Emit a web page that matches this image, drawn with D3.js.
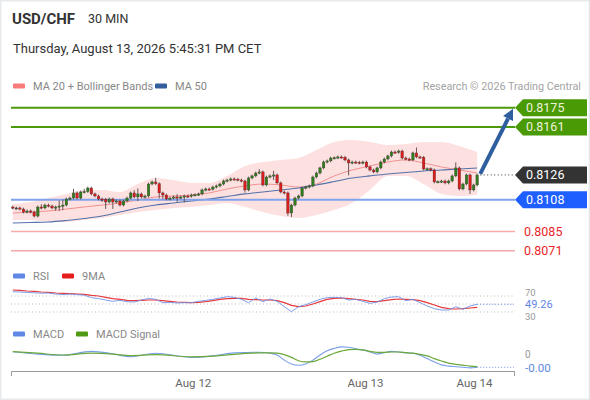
<!DOCTYPE html>
<html>
<head>
<meta charset="utf-8">
<title>USD/CHF 30 MIN</title>
<script src="https://cdn.jsdelivr.net/npm/d3@7/dist/d3.min.js"></script>
<style>
  body { margin: 0; background: #fff; }
  svg text { font-family: Roboto, "Liberation Sans", Arial, sans-serif; }
</style>
</head>
<body>
<svg id="chart" width="590" height="400"></svg>
<script>
// ---- data ----
const pair = "USD/CHF";
const period = "30 MIN";
const stamp = "Thursday, August 13, 2026 5:45:31 PM CET";

// 30 min candles, open = previous close
const firstOpen = 0.81028;
const closes = [
  0.81021, 0.81021, 0.81013, 0.80991, 0.80999, 0.80991, 0.80962, 0.81028, 0.81021, 0.81042,
  0.81035, 0.81021, 0.81028, 0.81035, 0.81042, 0.81086, 0.81093, 0.81130, 0.81093, 0.81137,
  0.81140, 0.81166, 0.81123, 0.81108, 0.81086, 0.81084, 0.81064, 0.81086, 0.81064, 0.81072,
  0.81042, 0.81072, 0.81093, 0.81130, 0.81101, 0.81123, 0.81101, 0.81108, 0.81195, 0.81210,
  0.81197, 0.81130, 0.81115, 0.81086, 0.81093, 0.81101, 0.81095, 0.81101, 0.81108, 0.81106,
  0.81115, 0.81117, 0.81123, 0.81152, 0.81159, 0.81157, 0.81173, 0.81181, 0.81195, 0.81217,
  0.81224, 0.81232, 0.81230, 0.81224, 0.81217, 0.81152, 0.81239, 0.81254, 0.81275, 0.81283,
  0.81188, 0.81246, 0.81254, 0.81261, 0.81203, 0.81137, 0.81130, 0.80984, 0.81042, 0.81093,
  0.81108, 0.81166, 0.81173, 0.81181, 0.81246, 0.81275, 0.81312, 0.81355, 0.81363, 0.81384,
  0.81386, 0.81392, 0.81390, 0.81370, 0.81348, 0.81355, 0.81353, 0.81348, 0.81355, 0.81319,
  0.81297, 0.81283, 0.81312, 0.81355, 0.81377, 0.81399, 0.81428, 0.81425, 0.81435, 0.81384,
  0.81377, 0.81370, 0.81421, 0.81392, 0.81390, 0.81304, 0.81306, 0.81297, 0.81210, 0.81212,
  0.81217, 0.81203, 0.81217, 0.81254, 0.81312, 0.81159, 0.81195, 0.81261, 0.81152, 0.81188,
  0.81261
];
// wick lengths beyond the body, in pips
const wickUp = [
  1,1,1,1,1,1,1,1,2,1, 1,1,1,4,4,1,1,3,1,1, 2,1,1,1,1,1,1,1,1,1, 1,1,1,1,2,4,1,1,1,1,
  3,1,1,1,1,1,2,1,1,1, 1,1,1,1,1,1,1,1,1,1, 1,1,1,1,1,1,1,1,1,2, 1,1,1,3,1,1,1,1,1,1,
  1,1,1,1,1,1,1,1,1,1, 1,1,1,1,1,1,1,1,1,1, 1,1,1,1,1,1,1,1,1,1, 1,1,1,4,1,1,1,1,1,1,
  1,1,1,1,4,1,1,1,1,1, 1
];
const wickDn = [
  1,1,1,1,1,1,1,1,1,1, 1,1,2,3,3,1,1,1,1,1, 1,1,1,1,1,2,5,1,5,1, 1,1,1,1,1,3,1,1,1,1,
  1,4,3,1,1,1,3,1,4,1, 1,1,1,1,1,1,1,1,1,1, 1,1,1,1,1,2,1,1,1,1, 1,1,1,3,1,1,1,2,3,1,
  1,1,1,1,1,1,1,1,1,1, 1,1,1,1,9,1,1,1,1,1, 1,1,1,1,1,1,1,1,1,1, 1,1,1,1,1,1,1,1,1,1,
  1,1,1,1,1,1,1,1,3,1, 1
];

// MA 20 + Bollinger Bands and MA 50, every 5th candle
const bandIdx = [0,5,10,15,20,25,30,35,40,45,50,55,60,65,70,75,80,85,90,95,100,105,110,115,120,125,130];
const bandUpper = [0.81050, 0.81064, 0.81093, 0.81123, 0.81152, 0.81152, 0.81137, 0.81195, 0.81239, 0.81224,
  0.81203, 0.81203, 0.81254, 0.81326, 0.81355, 0.81370, 0.81384, 0.81442, 0.81501, 0.81515,
  0.81501, 0.81479, 0.81486, 0.81501, 0.81501, 0.81472, 0.81428];
const ma20 = [0.80984, 0.80991, 0.80999, 0.81013, 0.81028, 0.81042, 0.81057, 0.81079, 0.81101, 0.81108,
  0.81115, 0.81130, 0.81159, 0.81181, 0.81195, 0.81188, 0.81173, 0.81195, 0.81254, 0.81297,
  0.81326, 0.81355, 0.81370, 0.81348, 0.81319, 0.81297, 0.81275];
const bandLower = [0.80933, 0.80933, 0.80919, 0.80919, 0.80933, 0.80948, 0.80970, 0.80991, 0.81006, 0.81021,
  0.81028, 0.81042, 0.81057, 0.81028, 0.80991, 0.80962, 0.80948, 0.80970, 0.81006, 0.81057,
  0.81152, 0.81254, 0.81254, 0.81195, 0.81123, 0.81108, 0.81115];
const ma50 = [0.80912, 0.80915, 0.80919, 0.80930, 0.80944, 0.80962, 0.80991, 0.81021, 0.81042, 0.81057,
  0.81072, 0.81086, 0.81104, 0.81123, 0.81137, 0.81152, 0.81166, 0.81188, 0.81213, 0.81239,
  0.81254, 0.81268, 0.81279, 0.81290, 0.81297, 0.81304, 0.81312];

// key levels
const levelValues = [0.8175, 0.8161, 0.8126, 0.8108, 0.8085, 0.8071];
const levelKinds = ["target", "target", "last", "pivot", "support", "support"];
const targetLevel = 0.8175;

// RSI and its 9MA, every 2nd candle
const rsiStep = 2;
const rsi = [
  80.8, 80, 79, 78, 77, 77.5, 75, 73.5, 75, 73.5,
  72, 66, 63.5, 60, 56.7, 59, 55.8, 55, 60, 64,
  61.7, 53.3, 54, 52.5, 53.3, 53.3, 56.7, 59, 61.7, 65,
  68.3, 66.7, 61.7, 53.3, 65, 55.8, 62.5, 56.7, 43.3, 30.8,
  43.3, 48.3, 55, 61.7, 65.8, 66.7, 65.8, 60, 61.7, 56.7,
  51.7, 55, 63.3, 67.5, 68.3, 58.3, 61.7, 53.3, 45, 38.3,
  35, 35, 43.3, 36.7, 45, 49.26
];
const rsiMa = [
  85, 84, 82.5, 81.7, 80, 79, 77.5, 76.7, 75.8, 75,
  74.2, 71.7, 70, 66.7, 63.3, 61.7, 59, 58.3, 59, 60,
  60, 58.3, 56.7, 55, 54, 53.3, 54, 55.8, 58.3, 61.7,
  63.3, 64, 64, 61.7, 60.8, 60, 60, 58.3, 53.3, 46.7,
  43.3, 45, 50, 55.8, 61.7, 64.2, 65, 63.3, 61.7, 60,
  56.7, 55.8, 58.3, 60.8, 62.5, 61.7, 60.8, 58.3, 53.3, 47.5,
  41.7, 38.3, 37.5, 38.3, 40, 41.7
];
const rsiLevels = [70, 50, 30];

// MACD and signal, in pips
const macdIdx = [0,7,14,22,28,33,40,50,56,62,69,72,74,76,78,80,82,84,86,88,90,92,94,96,98,100,
  102,104,106,108,110,112,114,116,118,120,122,124,126,128,130];
const macdPips = [2.1,1.3,0.9,2.2,1.4,0.4,1.6,0.2,0.7,1.7,1.9,1.6,1.0,
  -0.7,-2.0,-2.4,-2.0,-0.7,1.0,2.4,3.2,3.7,3.6,3.1,2.7,2.0,1.3,1.8,2.2,2.0,1.7,1.6,0.9,
  -0.2,-1.3,-2.3,-2.7,-2.9,-3.1,-3.3,-3.1];
const signalPips = [2.1,1.6,1.0,1.6,1.3,0.8,1.1,0.4,0.6,1.2,1.7,1.7,1.6,
  1.1,0.2,-0.9,-1.3,-1.2,-0.4,0.6,1.6,2.3,2.8,2.9,2.7,2.2,1.9,1.9,2.0,2.0,1.8,1.6,1.2,
  0.7,-0.2,-1.0,-1.7,-2.1,-2.4,-2.7,-2.9];

const tickIdx = [50.4, 98.6, 129.1];
const tickLabels = ["Aug 12", "Aug 13", "Aug 14"];

// ---- drawing ----
const svg = d3.select("#chart");
const pip = 0.0001;

const x = d3.scaleLinear().domain([-0.5, 140.3]).range([11, 514]);
const y = d3.scaleLinear().domain([0.8071, 0.8175]).range([250.7, 107.7]);
const yRsi = d3.scaleLinear().domain([30, 70]).range([312, 296]);
const yMacd = d3.scaleLinear().domain([-3, 3]).range([367, 349]);

const candles = closes.map((c, i) => {
  const o = i ? closes[i - 1] : firstOpen;
  return { i, o, c,
    h: Math.max(o, c) + wickUp[i] * pip,
    l: Math.min(o, c) - wickDn[i] * pip };
});
const last = candles[candles.length - 1];

svg.append("rect").attr("x", 0.75).attr("y", 0.75).attr("width", 588.5).attr("height", 398.5)
  .attr("fill", "#fff").attr("stroke", "#e6eaed").attr("stroke-width", 1.5);

// header
svg.append("text").attr("x", 12).attr("y", 24).attr("font-size", 15).attr("font-weight", "bold")
  .attr("fill", "#333").text(pair);
svg.append("text").attr("x", 88).attr("y", 23).attr("font-size", 12.5).attr("fill", "#333").text(period);
svg.append("text").attr("x", 13).attr("y", 53).attr("font-size", 13).attr("fill", "#333").text(stamp);

function legend(items, ly) {
  items.forEach(it => {
    svg.append("rect").attr("x", it.x).attr("y", ly - 2.5).attr("width", 12).attr("height", 5)
      .attr("rx", 1).attr("fill", it.color);
    svg.append("text").attr("x", it.x + 20).attr("y", ly + 4).attr("font-size", 11)
      .attr("fill", "#888").text(it.label);
  });
}
legend([{ x: 13, color: "#f77b7b", label: "MA 20 + Bollinger Bands" },
        { x: 155, color: "#345d9d", label: "MA 50" }], 86);
svg.append("text").attr("x", 581).attr("y", 90).attr("text-anchor", "end").attr("font-size", 10.8)
  .attr("fill", "#a3a3a3").text("Research \u00a9 2026 Trading Central");

// bollinger band
const bandPts = bandIdx.map((k, j) => ({ k, u: bandUpper[j], m: ma20[j], l: bandLower[j], s: ma50[j] }));
svg.append("path").datum(bandPts)
  .attr("d", d3.area().x(d => x(d.k)).y0(d => y(d.l)).y1(d => y(d.u)).curve(d3.curveMonotoneX))
  .attr("fill", "#fde1e1");
svg.append("path").datum(bandPts)
  .attr("d", d3.line().x(d => x(d.k)).y(d => y(d.m)).curve(d3.curveMonotoneX))
  .attr("fill", "none").attr("stroke", "#f39090").attr("stroke-width", 1);
svg.append("path").datum(bandPts)
  .attr("d", d3.line().x(d => x(d.k)).y(d => y(d.s)).curve(d3.curveMonotoneX))
  .attr("fill", "none").attr("stroke", "#5372aa").attr("stroke-width", 1.1);

// level lines
const lineStyle = {
  target: { stroke: "#4c9a0c", width: 2 },
  pivot: { stroke: "#7fa3ec", width: 2 },
  support: { stroke: "#f6aaaa", width: 1.5 }
};
levelValues.forEach((v, j) => {
  const st = lineStyle[levelKinds[j]];
  if (!st) return;
  svg.append("line").attr("x1", 11).attr("x2", 515).attr("y1", y(v)).attr("y2", y(v))
    .attr("stroke", st.stroke).attr("stroke-width", st.width);
});

// candles
const cw = 2.6;
const cg = svg.append("g");
cg.selectAll("line.wick").data(candles).join("line")
  .attr("x1", d => x(d.i)).attr("x2", d => x(d.i))
  .attr("y1", d => y(d.h)).attr("y2", d => y(d.l))
  .attr("stroke", "#5a4a4a").attr("stroke-width", 0.9);
cg.selectAll("rect.body").data(candles).join("rect")
  .attr("x", d => x(d.i) - cw / 2).attr("width", cw)
  .attr("y", d => y(Math.max(d.o, d.c)))
  .attr("height", d => Math.max(1.2, Math.abs(y(d.o) - y(d.c))))
  .attr("fill", d => d.c > d.o ? "#2f7d1d" : (d.c < d.o ? "#d91c1c" : "#444"))
  .attr("stroke", "#3a3030").attr("stroke-width", 0.3);

// dotted line from last close to its label
svg.append("line").attr("x1", x(last.i) + 3).attr("x2", 515)
  .attr("y1", y(last.c)).attr("y2", y(last.c))
  .attr("stroke", "#333").attr("stroke-width", 1).attr("stroke-dasharray", "1,2.5");

// target arrow
const ax1 = x(last.i) + 3, ay1 = y(last.c) - 1;
const ax2 = x(140.3) - 1, ay2 = y(targetLevel) + 1;
const ang = Math.atan2(ay2 - ay1, ax2 - ax1);
const hl = 11, hw = 5.5;
const bx = ax2 - hl * Math.cos(ang), by = ay2 - hl * Math.sin(ang);
svg.append("line").attr("x1", ax1).attr("y1", ay1).attr("x2", bx).attr("y2", by)
  .attr("stroke", "#2e5e9e").attr("stroke-width", 4);
svg.append("polygon").attr("fill", "#2e5e9e").attr("points", [
  [ax2, ay2],
  [bx + hw * Math.sin(ang), by - hw * Math.cos(ang)],
  [bx - hw * Math.sin(ang), by + hw * Math.cos(ang)]
].map(p => p.join(",")).join(" "));

// level labels
const boxFill = { target: "#4a9a06", last: "#333333", pivot: "#1f5eff" };
const boxText = { target: "#eef3dc", last: "#ffffff", pivot: "#ffffff" };
levelValues.forEach((v, j) => {
  const k = levelKinds[j], ly = y(v);
  if (boxFill[k]) {
    svg.append("polygon").attr("fill", boxFill[k])
      .attr("points", `515,${ly} 523,${ly - 8.5} 587,${ly - 8.5} 587,${ly + 8.5} 523,${ly + 8.5}`);
    svg.append("text").attr("x", 526).attr("y", ly + 4.3).attr("font-size", 12.5)
      .attr("fill", boxText[k]).text(v.toFixed(4));
  } else {
    svg.append("text").attr("x", 524).attr("y", ly + 4.3).attr("font-size", 12.5)
      .attr("fill", "#e8262b").text(v.toFixed(4));
  }
});

// RSI panel
legend([{ x: 13, color: "#5f87e3", label: "RSI" }, { x: 62, color: "#e51c1c", label: "9MA" }], 276);
rsiLevels.forEach(v => {
  svg.append("line").attr("x1", 11).attr("x2", 514).attr("y1", yRsi(v)).attr("y2", yRsi(v))
    .attr("stroke", "#aaa").attr("stroke-width", 0.8).attr("stroke-dasharray", "1,2.5");
});
const rsiLine = d3.line().x((d, k) => x(k * rsiStep)).y(d => yRsi(d));
svg.append("path").datum(rsiMa).attr("d", rsiLine).attr("fill", "none")
  .attr("stroke", "#e8383a").attr("stroke-width", 1.2);
svg.append("path").datum(rsi).attr("d", rsiLine).attr("fill", "none")
  .attr("stroke", "#6e93e8").attr("stroke-width", 0.9);
const rsiLast = rsi[rsi.length - 1];
svg.append("line").attr("x1", x((rsi.length - 1) * rsiStep)).attr("x2", 514)
  .attr("y1", yRsi(rsiLast)).attr("y2", yRsi(rsiLast))
  .attr("stroke", "#6e93e8").attr("stroke-width", 1).attr("stroke-dasharray", "1,2");
svg.append("text").attr("x", 525).attr("y", yRsi(70)).attr("font-size", 9.5).attr("fill", "#999").text("70");
svg.append("text").attr("x", 525).attr("y", yRsi(30) + 7.5).attr("font-size", 9.5).attr("fill", "#999").text("30");
svg.append("text").attr("x", 525).attr("y", yRsi(rsiLast) + 3.5).attr("font-size", 11)
  .attr("fill", "#5f87e3").text(rsiLast.toFixed(2));

// MACD panel
legend([{ x: 13, color: "#5f87e3", label: "MACD" }, { x: 76, color: "#4f9a12", label: "MACD Signal" }], 334);
const macdLine = d3.line().x((d, j) => x(macdIdx[j])).y(d => yMacd(d)).curve(d3.curveMonotoneX);
svg.append("path").datum(macdPips).attr("d", macdLine).attr("fill", "none")
  .attr("stroke", "#7a9ee9").attr("stroke-width", 1.1);
svg.append("path").datum(signalPips).attr("d", macdLine).attr("fill", "none")
  .attr("stroke", "#6aa83a").attr("stroke-width", 1.2);
const macdLast = macdPips[macdPips.length - 1];
svg.append("line").attr("x1", x(macdIdx[macdIdx.length - 1])).attr("x2", 514)
  .attr("y1", yMacd(macdLast)).attr("y2", yMacd(macdLast))
  .attr("stroke", "#6e93e8").attr("stroke-width", 1).attr("stroke-dasharray", "1,2");
svg.append("text").attr("x", 525).attr("y", yMacd(0)).attr("font-size", 10).attr("fill", "#999").text("0");
svg.append("text").attr("x", 525).attr("y", yMacd(macdLast) + 4.5).attr("font-size", 11.5)
  .attr("fill", "#5f87e3").text((macdLast * pip).toFixed(2));

// time axis
const xAxis = svg.append("g").attr("transform", "translate(0,371)")
  .call(d3.axisBottom(x).tickValues(tickIdx).tickFormat((d, i) => tickLabels[i])
    .tickSizeInner(0).tickSizeOuter(5).tickPadding(8));
xAxis.select(".domain").attr("stroke", "#999");
xAxis.selectAll("text").attr("font-size", 11.5).attr("fill", "#666");
</script>
</body>
</html>
